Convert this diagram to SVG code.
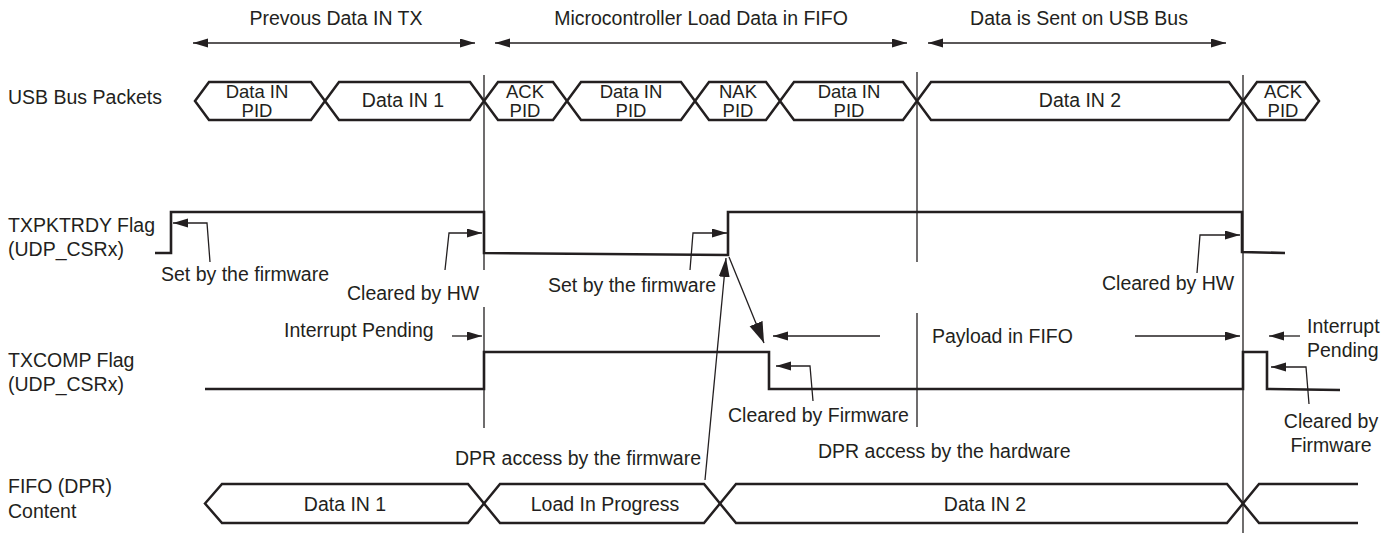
<svg xmlns="http://www.w3.org/2000/svg" width="1397" height="537" viewBox="0 0 1397 537">
<style>
text{font-family:"Liberation Sans",Arial,sans-serif;font-size:19.5px;fill:#231f20}
.m{text-anchor:middle}
.s{font-size:18.5px}
.hex{fill:none;stroke:#231f20;stroke-width:2.5;stroke-linejoin:miter}
.wave{fill:none;stroke:#231f20;stroke-width:2.6}
.thin{fill:none;stroke:#231f20;stroke-width:1.3}
.lead{fill:none;stroke:#231f20;stroke-width:1.3;marker-end:url(#ah)}
.dbl{fill:none;stroke:#231f20;stroke-width:1.4;marker-start:url(#ah);marker-end:url(#ah)}
</style>
<defs>
<marker id="ah" markerUnits="userSpaceOnUse" markerWidth="16" markerHeight="10" refX="15" refY="4.5" orient="auto-start-reverse"><path d="M0,0 L15,4.5 L0,9 Z" fill="#231f20"/></marker>
<marker id="ahL" markerUnits="userSpaceOnUse" markerWidth="22" markerHeight="16" refX="21" refY="7" orient="auto"><path d="M0,0 L21,7 L0,14 Z" fill="#231f20"/></marker>
<marker id="ahM" markerUnits="userSpaceOnUse" markerWidth="20" markerHeight="12" refX="19" refY="5.5" orient="auto"><path d="M0,0 L19,5.5 L0,11 Z" fill="#231f20"/></marker>
</defs>

<g id="phase-labels">
<text class="m" x="336" y="25">Prevous Data IN TX</text>
<text class="m" x="701" y="25">Microcontroller Load Data in FIFO</text>
<text class="m" x="1079" y="25">Data is Sent on USB Bus</text>
</g>

<g id="row-labels">
<text x="8" y="104">USB Bus Packets</text>
<text x="8" y="232">TXPKTRDY Flag</text>
<text x="8" y="256">(UDP_CSRx)</text>
<text x="8" y="367">TXCOMP Flag</text>
<text x="8" y="391">(UDP_CSRx)</text>
<text x="8" y="493">FIFO (DPR)</text>
<text x="8" y="518">Content</text>
</g>

<g id="usb-packets">
<g id="pkt-datain-pid-1"><path class="hex" d="M195,101 L209,82 L311,82 L325,101 L311,120 L209,120 Z"/><text class="m s" x="257" y="98">Data IN</text><text class="m s" x="257" y="117">PID</text></g>
<g id="pkt-datain1"><path class="hex" d="M325,101 L339,82 L470,82 L484,101 L470,120 L339,120 Z"/><text class="m" x="403" y="107">Data IN 1</text></g>
<g id="pkt-ack-1"><path class="hex" d="M484,101 L498,82 L553,82 L567,101 L553,120 L498,120 Z"/><text class="m s" x="525" y="98">ACK</text><text class="m s" x="525" y="117">PID</text></g>
<g id="pkt-datain-pid-2"><path class="hex" d="M567,101 L581,82 L681,82 L695,101 L681,120 L581,120 Z"/><text class="m s" x="631" y="98">Data IN</text><text class="m s" x="631" y="117">PID</text></g>
<g id="pkt-nak"><path class="hex" d="M695,101 L709,82 L766,82 L780,101 L766,120 L709,120 Z"/><text class="m s" x="738" y="98">NAK</text><text class="m s" x="738" y="117">PID</text></g>
<g id="pkt-datain-pid-3"><path class="hex" d="M780,101 L794,82 L903,82 L917,101 L903,120 L794,120 Z"/><text class="m s" x="849" y="98">Data IN</text><text class="m s" x="849" y="117">PID</text></g>
<g id="pkt-datain2"><path class="hex" d="M917,101 L931,82 L1229,82 L1243,101 L1229,120 L931,120 Z"/><text class="m" x="1080" y="107">Data IN 2</text></g>
<g id="pkt-ack-2"><path class="hex" d="M1243,101 L1257,82 L1305,82 L1319,101 L1305,120 L1257,120 Z"/><text class="m s" x="1283" y="98">ACK</text><text class="m s" x="1283" y="117">PID</text></g>
</g>

<g id="fifo">
<g id="fifo-datain1"><path class="hex" d="M205,503.5 L222,484 L468,484 L484,503.5 L468,523 L222,523 Z"/><text class="m" x="345" y="511">Data IN 1</text></g>
<g id="fifo-load"><path class="hex" d="M484,503.5 L500,484 L704,484 L720,503.5 L704,523 L500,523 Z"/><text class="m" x="605" y="511">Load In Progress</text></g>
<g id="fifo-datain2"><path class="hex" d="M720,503.5 L736,484 L1227,484 L1243,503.5 L1227,523 L736,523 Z"/><text class="m" x="985" y="511">Data IN 2</text></g>
<g id="fifo-next"><path class="hex" d="M1358,484 L1259,484 L1243,503.5 L1259,523 L1358,523"/></g>
</g>

<g id="txpktrdy">
<path class="wave" d="M155,253 L171,253 L171,212 L484,212 L484,253 L728,255 L728,212 L1242,212 L1242,252 L1285,253"/>
</g>

<g id="txcomp">
<path class="wave" d="M205,389 L484,389 L484,352 L769,352 L769,389 L1243,389 L1243,352 L1267,352 L1267,389 L1340,390"/>
</g>

<g id="connectors">
<path class="dbl" d="M193,43 L475,43"/>
<path class="dbl" d="M495,43 L907,43"/>
<path class="dbl" d="M928,43 L1226,43"/>
<path class="thin" d="M484,75 L484,270 M484,307 L484,428"/>
<path class="thin" d="M917,72 L917,262 M917,313 L917,427"/>
<path class="thin" d="M1243,75 L1243,533"/>
<path class="lead" d="M210,262 L207,223 L173,223"/>
<path class="lead" d="M445,270 L449,233 L482,233"/>
<path class="lead" d="M690,270 L693,233 L727,233"/>
<path class="lead" d="M1197,273 L1200,235 L1240,235"/>
<path class="thin" style="marker-end:url(#ahL)" d="M729,257 L764,343"/>
<path class="thin" style="marker-end:url(#ahM)" d="M705,480 L726,258"/>
<path class="lead" d="M452,336 L482,336"/>
<path class="lead" d="M880,336 L773,336"/>
<path class="lead" d="M1135,336 L1240,336"/>
<path class="lead" d="M813,401 L810,366 L776,366"/>
<path class="lead" d="M1300,336 L1269,336"/>
<path class="lead" d="M1309,404 L1306,367 L1271,367"/>
</g>

<g id="annotations">
<text x="161" y="281">Set by the firmware</text>
<text x="347" y="300">Cleared by HW</text>
<text x="548" y="292">Set by the firmware</text>
<text x="1102" y="290">Cleared by HW</text>
<text x="284" y="337">Interrupt Pending</text>
<text x="932" y="343">Payload in FIFO</text>
<text x="728" y="422">Cleared by Firmware</text>
<text x="1307" y="333">Interrupt</text>
<text x="1307" y="357">Pending</text>
<text class="m" x="1331" y="428">Cleared by</text>
<text class="m" x="1331" y="452">Firmware</text>
<text x="455" y="465">DPR access by the firmware</text>
<text x="818" y="458">DPR access by the hardware</text>
</g>
</svg>
